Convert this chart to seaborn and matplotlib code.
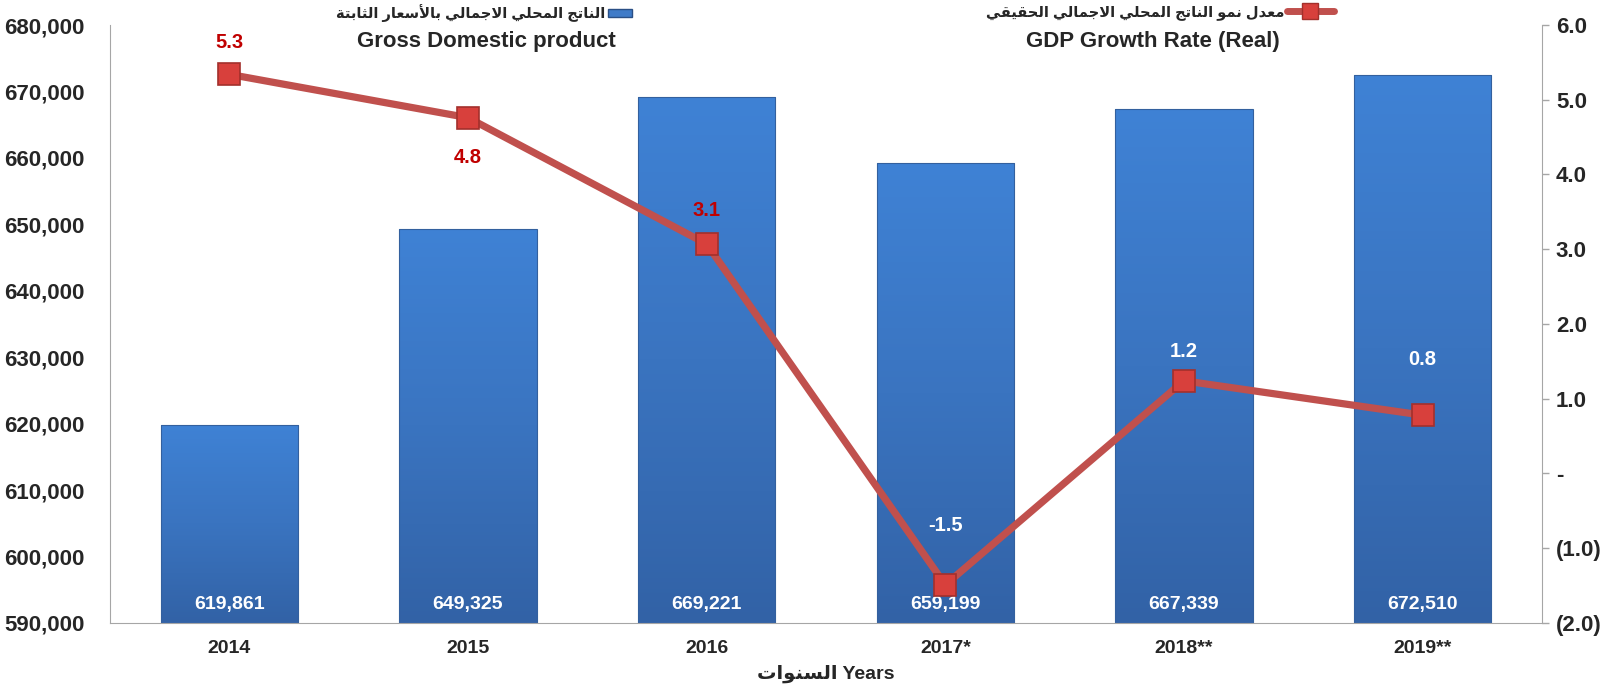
import numpy as np
import pandas as pd
import seaborn as sns
import matplotlib
matplotlib.use('Agg')
import matplotlib.pyplot as plt
from matplotlib.colors import LinearSegmentedColormap
from matplotlib.patches import Patch
from matplotlib.lines import Line2D
from matplotlib.ticker import FuncFormatter, MultipleLocator

# data
years = ['2014', '2015', '2016', '2017*', '2018**', '2019**']
gdp = [619861, 649325, 669221, 659199, 667339, 672510]
growth = [5.34, 4.76, 3.07, -1.49, 1.24, 0.78]

ar_gdp = 'الناتج المحلي الاجمالي بالأسعار الثابتة'
ar_growth = 'معدل نمو الناتج المحلي الاجمالي الحقيقي'
ar_years = 'السنوات'
en_gdp = 'Gross Domestic product'
en_growth = 'GDP Growth Rate (Real)'

# matplotlib has no arabic shaping, so do a small one by hand
FORMS = {
    'ا': (0xFE8D, 0xFE8E, None, None), 'أ': (0xFE83, 0xFE84, None, None),
    'ب': (0xFE8F, 0xFE90, 0xFE91, 0xFE92), 'ة': (0xFE93, 0xFE94, None, None),
    'ت': (0xFE95, 0xFE96, 0xFE97, 0xFE98), 'ث': (0xFE99, 0xFE9A, 0xFE9B, 0xFE9C),
    'ج': (0xFE9D, 0xFE9E, 0xFE9F, 0xFEA0), 'ح': (0xFEA1, 0xFEA2, 0xFEA3, 0xFEA4),
    'د': (0xFEA9, 0xFEAA, None, None), 'ر': (0xFEAD, 0xFEAE, None, None),
    'س': (0xFEB1, 0xFEB2, 0xFEB3, 0xFEB4), 'ع': (0xFEC9, 0xFECA, 0xFECB, 0xFECC),
    'ق': (0xFED5, 0xFED6, 0xFED7, 0xFED8), 'ل': (0xFEDD, 0xFEDE, 0xFEDF, 0xFEE0),
    'م': (0xFEE1, 0xFEE2, 0xFEE3, 0xFEE4), 'ن': (0xFEE5, 0xFEE6, 0xFEE7, 0xFEE8),
    'و': (0xFEED, 0xFEEE, None, None), 'ي': (0xFEF1, 0xFEF2, 0xFEF3, 0xFEF4),
}
LAM_ALEF = {'ا': (0xFEFB, 0xFEFC), 'أ': (0xFEF7, 0xFEF8)}


def dual(c):
    return c in FORMS and FORMS[c][2] is not None


def shape(text):
    out = []
    i = 0
    while i < len(text):
        c = text[i]
        prev = text[i - 1] if i > 0 else ''
        nxt = text[i + 1] if i + 1 < len(text) else ''
        if c not in FORMS:
            out.append(c)
            i += 1
            continue
        if c == 'ل' and nxt in LAM_ALEF:
            out.append(chr(LAM_ALEF[nxt][1 if dual(prev) else 0]))
            i += 2
            continue
        f = FORMS[c]
        p = dual(prev)
        n = dual(c) and nxt in FORMS
        if p and n:
            out.append(chr(f[3]))
        elif p:
            out.append(chr(f[1]))
        elif n:
            out.append(chr(f[2]))
        else:
            out.append(chr(f[0]))
        i += 1
    return ''.join(reversed(out))


df = pd.DataFrame({'year': years, 'gdp': gdp, 'growth': growth})

sns.set_style('white')
plt.rcParams['font.family'] = ['Liberation Sans', 'DejaVu Sans']
plt.rcParams['font.weight'] = 'bold'

fig = plt.figure(figsize=(16.15, 6.87), dpi=100)
ax = fig.add_axes([0.0681, 0.0932, 0.8867, 0.8704])

line_col = '#C0504D'
sns.barplot(data=df, x='year', y='gdp', ax=ax, width=0.575,
            color='#3C78C6', saturation=1, edgecolor='#33609E', linewidth=0.8)

ymin, ymax = 590000, 680000
grad = np.linspace(0, 1, 256).reshape(-1, 1)
cmap = LinearSegmentedColormap.from_list('bars', ['#3262A6', '#3A74C0', '#3F82D5'])
for bar in ax.patches:
    x0, w, h = bar.get_x(), bar.get_width(), bar.get_height()
    bar.set_facecolor('none')
    im = ax.imshow(grad, cmap=cmap, origin='lower', aspect='auto',
                   extent=[x0, x0 + w, ymin, h], zorder=0.9)
    im.set_clip_path(bar)
ax.set_xlim(-0.5, len(years) - 0.5)
ax.set_ylim(ymin, ymax)
ax.yaxis.set_major_locator(MultipleLocator(10000))
ax.yaxis.set_major_formatter(FuncFormatter(lambda v, p: f'{v:,.0f}'))

for i, v in enumerate(gdp):
    ax.annotate(f'{v:,}', xy=(i, ymin), xytext=(0, 13), textcoords='offset points',
                ha='center', va='center', color='white', fontsize=14, fontweight='bold')

ax2 = ax.twinx()
sns.pointplot(data=df, x='year', y='growth', ax=ax2, color=line_col, markers='s',
              linestyles='-', errorbar=None, linewidth=5.2, markersize=16,
              markerfacecolor='#D8403C', markeredgecolor='#A3302C', markeredgewidth=1.2)
ax2.set_ylim(-2, 6)
ax2.set_xlim(-0.5, len(years) - 0.5)
ax2.yaxis.set_major_locator(MultipleLocator(1))


def fmt_growth(v, p):
    if abs(v) < 1e-9:
        return '-'
    if v < 0:
        return f'({abs(v):.1f})'
    return f'{v:.1f}'


ax2.yaxis.set_major_formatter(FuncFormatter(fmt_growth))

# growth labels
lab_off = [23, -29, 24, 43, 21, 40]
lab_col = ['#C00000', '#C00000', '#C00000', 'white', 'white', 'white']
for i, v in enumerate(growth):
    ax2.annotate(f'{v:.1f}', xy=(i, v), xytext=(0, lab_off[i]), textcoords='offset points',
                 ha='center', va='center', color=lab_col[i], fontsize=14.5, fontweight='bold')

spine_col = '#A6A6A6'
for a in (ax, ax2):
    for s in a.spines.values():
        s.set_visible(False)
ax.spines['left'].set_visible(True)
ax.spines['bottom'].set_visible(True)
ax2.spines['right'].set_visible(True)
ax.spines['left'].set_color(spine_col)
ax.spines['bottom'].set_color(spine_col)
ax2.spines['right'].set_color(spine_col)

ax.tick_params(axis='y', length=0, pad=18, labelsize=16)
ax.tick_params(axis='x', length=0, pad=12, labelsize=14)
ax2.tick_params(axis='y', length=5, width=1, color=spine_col, pad=5, labelsize=16)
ax2.tick_params(axis='x', length=0, labelbottom=False)
ax2.set_xlabel('')
ax2.set_ylabel('')
ax.set_ylabel('')
ax.set_xlabel(shape(ar_years) + ' Years', fontsize=14, fontweight='bold', labelpad=6)
for t in ax.get_xticklabels() + ax.get_yticklabels() + ax2.get_yticklabels():
    t.set_fontweight('bold')

# legend on top, right-to-left
h_bar = Patch(facecolor='#3F7BC8', edgecolor='#2A4F85')
h_line = Line2D([], [], color=line_col, lw=5, marker='s', ms=12,
                markerfacecolor='#D8403C', markeredgecolor='#A3302C')
leg_font = {'family': ['Liberation Sans', 'DejaVu Sans'], 'weight': 'bold', 'size': 10.5}
leg1 = fig.legend([h_bar], [shape(ar_gdp)], loc='center right',
                  bbox_to_anchor=(639 / 1615, 1 - 13 / 687), frameon=False, markerfirst=False,
                  borderpad=0, handlelength=1.6, handleheight=0.5, handletextpad=0.2, prop=leg_font)
leg2 = fig.legend([h_line], [shape(ar_growth)], loc='center right',
                  bbox_to_anchor=(1341 / 1615, 1 - 13 / 687), frameon=False, markerfirst=False,
                  borderpad=0, handlelength=3.2, handletextpad=0.2, prop=leg_font)
en_font = dict(family=['Liberation Sans Narrow', 'Liberation Sans'], fontweight='bold', fontsize=16,
               ha='right', va='center')
fig.text(616 / 1615, 1 - 41 / 687, en_gdp, **en_font)
fig.text(1280 / 1615, 1 - 41 / 687, en_growth, **en_font)

fig.savefig('out.png', dpi=100)
